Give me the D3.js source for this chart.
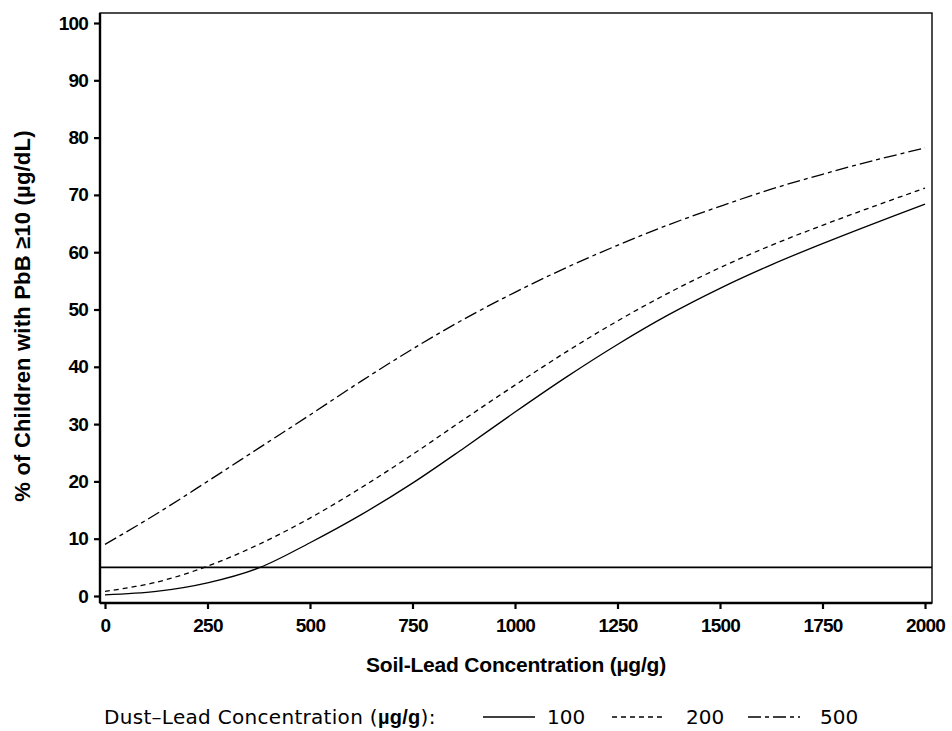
<!DOCTYPE html>
<html>
<head>
<meta charset="utf-8">
<script src="https://cdn.jsdelivr.net/npm/d3@7"></script>
<style>
  html, body { margin: 0; padding: 0; background: #fff; }
  svg { display: block; }
</style>
</head>
<body>
<svg id="chart" width="952" height="731"></svg>
<script>
// Soil-lead concentration (µg/g) at which each curve is evaluated
const soilLead = [0, 125, 250, 375, 500, 625, 750, 875, 1000, 1125, 1250, 1375, 1500, 1625, 1750, 1875, 2000];

// % of children with PbB >= 10 µg/dL, one series per dust-lead level
const dust100 = [0.2, 0.8, 2.3, 4.9, 9.3, 14.2, 19.7, 25.8, 32.1, 38.2, 43.9, 49.1, 53.7, 57.8, 61.5, 65.0, 68.4];
const dust200 = [0.8, 2.4, 5.2, 9.0, 13.6, 18.9, 24.7, 30.8, 36.8, 42.6, 48.0, 52.9, 57.3, 61.2, 64.7, 68.0, 71.2];
const dust500 = [9.0, 14.3, 20.0, 25.8, 31.6, 37.5, 43.1, 48.3, 53.0, 57.3, 61.2, 64.8, 68.0, 71.0, 73.6, 76.0, 78.2];

const dustLevels = ["100", "200", "500"];
const seriesValues = [dust100, dust200, dust500];

// Reference level drawn across the plot
const referenceLevel = 5;

const xTicks = [0, 250, 500, 750, 1000, 1250, 1500, 1750, 2000];
const yTicks = [0, 10, 20, 30, 40, 50, 60, 70, 80, 90, 100];

const dashStyles = ["none", "5,4", "13,4,4,4"];

const svg = d3.select("#chart");

const frame = { left: 100, right: 932, top: 13, bottom: 603 };

const x = d3.scaleLinear().domain([0, 2000]).range([105, 925]);
const y = d3.scaleLinear().domain([0, 100]).range([596, 23]);

const boldFont = "'Liberation Sans', Arial, sans-serif";

// Plot frame
svg.append("rect")
  .attr("x", frame.left).attr("y", frame.top)
  .attr("width", frame.right - frame.left).attr("height", frame.bottom - frame.top)
  .attr("fill", "none").attr("stroke", "#000").attr("stroke-width", 1.4);

function styleTicks(g) {
  g.selectAll(".tick line").attr("stroke-width", 2.2);
  g.selectAll(".tick text")
    .attr("font-family", boldFont).attr("font-weight", "bold")
    .attr("font-size", 19).attr("letter-spacing", -0.8).attr("fill", "#000");
}

// Y axis
const yAxis = svg.append("g")
  .attr("transform", `translate(${frame.left},0)`)
  .call(d3.axisLeft(y).tickValues(yTicks).tickFormat(d3.format("d"))
    .tickSize(6).tickPadding(6).tickSizeOuter(0));
yAxis.select(".domain").attr("d", `M0,${frame.top}V${frame.bottom}`).attr("stroke-width", 2.4);
styleTicks(yAxis);

// X axis
const xAxis = svg.append("g")
  .attr("transform", `translate(0,${frame.bottom})`)
  .call(d3.axisBottom(x).tickValues(xTicks).tickFormat(d3.format("d"))
    .tickSize(6).tickPadding(10).tickSizeOuter(0));
xAxis.select(".domain").attr("d", `M${frame.left},0H${frame.right}`).attr("stroke-width", 2.4);
styleTicks(xAxis);

// Axis titles
svg.append("text")
  .attr("x", 516).attr("y", 672)
  .attr("text-anchor", "middle")
  .attr("font-family", boldFont).attr("font-weight", "bold").attr("font-size", 21)
  .attr("letter-spacing", -0.2)
  .text("Soil-Lead Concentration (µg/g)");

svg.append("text")
  .attr("transform", "translate(30,316) rotate(-90)")
  .attr("text-anchor", "middle")
  .attr("font-family", boldFont).attr("font-weight", "bold").attr("font-size", 22)
  .attr("letter-spacing", 0.2)
  .text("% of Children with PbB ≥10 (µg/dL)");

// Reference line
svg.append("line")
  .attr("x1", frame.left).attr("x2", frame.right)
  .attr("y1", y(referenceLevel)).attr("y2", y(referenceLevel))
  .attr("stroke", "#000").attr("stroke-width", 1.8);

// Curves
const line = d3.line()
  .x((d, i) => x(soilLead[i]))
  .y(d => y(d))
  .curve(d3.curveCatmullRom.alpha(0.5));

seriesValues.forEach((vals, k) => {
  svg.append("path")
    .datum(vals)
    .attr("d", line)
    .attr("fill", "none")
    .attr("stroke", "#000")
    .attr("stroke-width", 1.3)
    .attr("stroke-dasharray", dashStyles[k]);
});

// Legend
const legendFont = "'DejaVu Sans', sans-serif";
const legendY = 717;
const legend = svg.append("g");
const legendText = legend.append("text")
  .attr("x", 104).attr("y", legendY + 7)
  .attr("font-family", legendFont).attr("font-size", 20).attr("fill", "#000")
  .attr("letter-spacing", 0.3);
legendText.append("tspan").text("Dust\u2013Lead Concentration (");
legendText.append("tspan").attr("font-family", boldFont).attr("font-weight", "bold").text("µg/g");
legendText.append("tspan").text("):");

const legendLineX = [483, 612, 748];
const legendLabelX = [547, 686, 820];
dustLevels.forEach((lvl, k) => {
  legend.append("line")
    .attr("x1", legendLineX[k]).attr("x2", legendLineX[k] + 52)
    .attr("y1", legendY).attr("y2", legendY)
    .attr("stroke", "#000").attr("stroke-width", 1.3)
    .attr("stroke-dasharray", dashStyles[k]);
  legend.append("text")
    .attr("x", legendLabelX[k]).attr("y", legendY + 7)
    .attr("font-family", legendFont).attr("font-size", 20)
    .text(lvl);
});
</script>
</body>
</html>
